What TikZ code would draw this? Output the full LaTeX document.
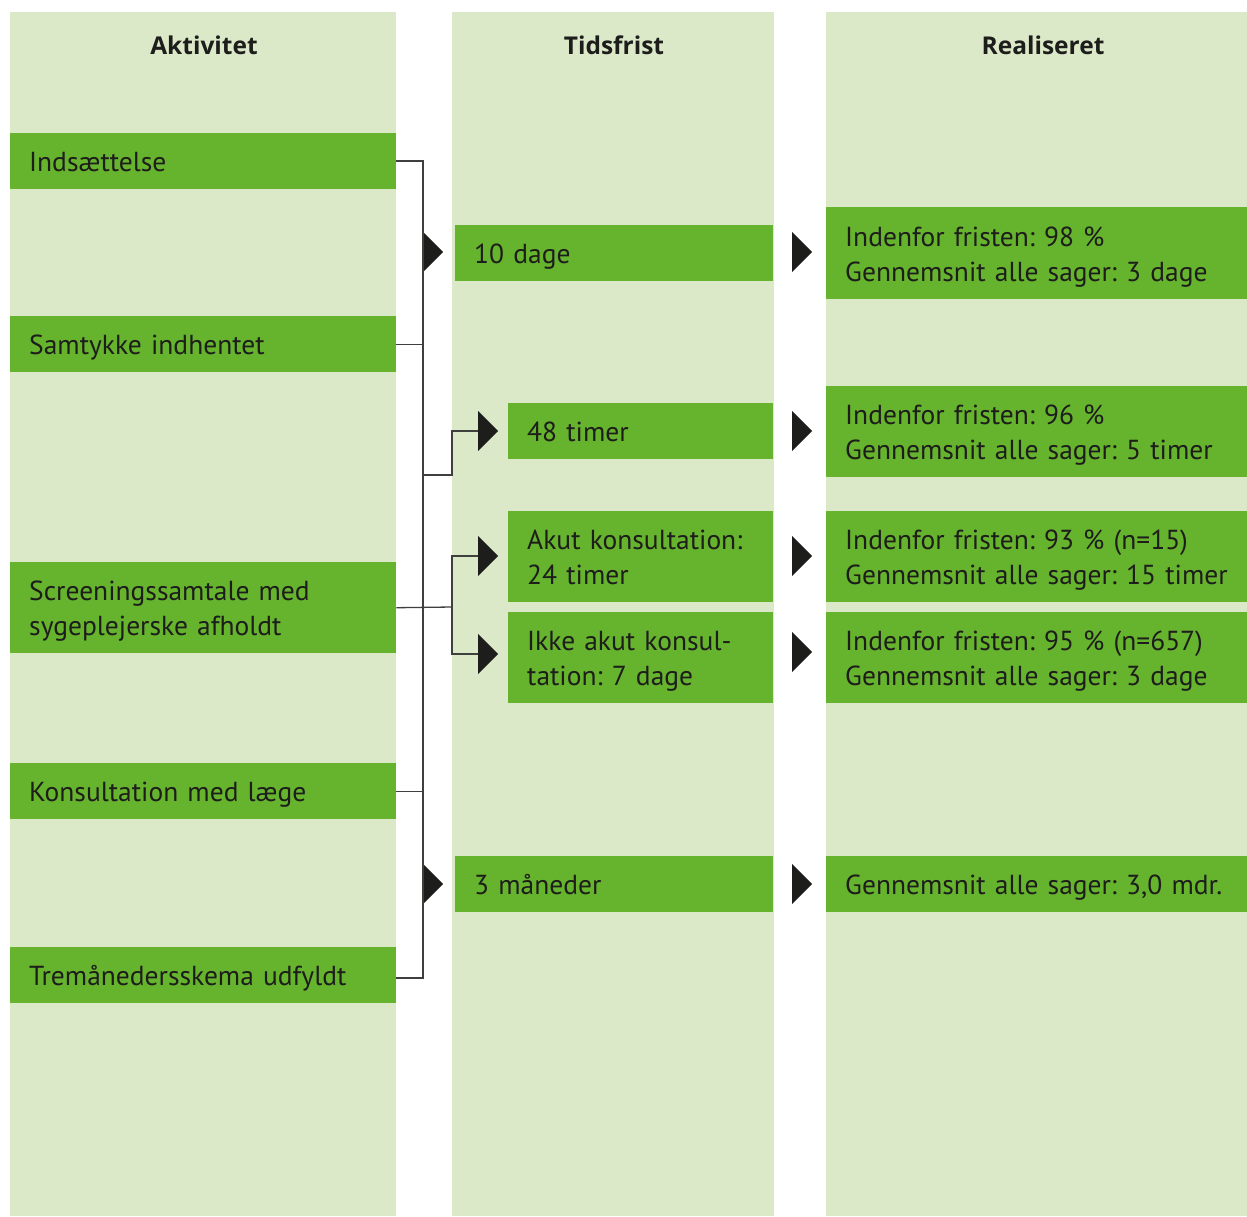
\documentclass[tikz,border=0pt]{standalone}
\usepackage{fontspec}
\setmainfont{PT Sans}
\newfontfamily\headfont{Open Sans}
\usetikzlibrary{shapes.geometric}
\definecolor{lightg}{HTML}{DCE9C8}
\definecolor{darkg}{HTML}{66B32E}
\definecolor{txt}{HTML}{1D1D1B}
\newcommand\bxt[1]{\raisebox{-3.5pt}[\height][\depth]{\begin{tabular}{@{}l@{}}#1\end{tabular}}}
\tikzset{
  x=1pt,y=-1pt,
  col/.style={fill=lightg, draw=none},
  gbox/.style={fill=darkg, draw=none, anchor=north west, inner xsep=19pt, inner ysep=0pt,
    align=left, text=txt, font=\fontsize{27.5}{35}\selectfont},
  head/.style={text=txt, font=\headfont\fontsize{24.5}{28}\selectfont\bfseries},
  tri/.style={isosceles triangle, isosceles triangle stretches, fill=txt, draw=none,
    inner sep=0pt, minimum height=20pt, minimum width=40pt, anchor=west},
  conn/.style={draw=txt!85, line width=1.3pt}
}
\begin{document}
\frenchspacing
\begin{tikzpicture}
\useasboundingbox (0,0) rectangle (1247,1216);
% columns
\fill[col] (10,12) rectangle (396,1216);
\fill[col] (452,12) rectangle (774,1216);
\fill[col] (826,12) rectangle (1247,1216);
% headers
\node[head] (h1) at (204,45) {Aktivitet};
\node[head] (h2) at (614,45) {Tidsfrist};
\node[head] (h3) at (1043,45) {Realiseret};
% activity boxes
\node[gbox, minimum width=386pt, minimum height=56pt, text width=348pt] (a1) at (10,133) {\bxt{Indsættelse}};
\node[gbox, minimum width=386pt, minimum height=56pt, text width=348pt] (a2) at (10,316) {\bxt{Samtykke indhentet}};
\node[gbox, minimum width=386pt, minimum height=91pt, text width=348pt] (a3) at (10,562) {\bxt{Screeningssamtale med\\sygeplejerske afholdt}};
\node[gbox, minimum width=386pt, minimum height=56pt, text width=348pt] (a4) at (10,763) {\bxt{Konsultation med læge}};
\node[gbox, minimum width=386pt, minimum height=56pt, text width=348pt] (a5) at (10,947) {\bxt{Tremånedersskema udfyldt}};
% deadline boxes
\node[gbox, minimum width=318pt, minimum height=56pt, text width=280pt] (t1) at (455,225) {\bxt{10 dage}};
\node[gbox, minimum width=265pt, minimum height=56pt, text width=227pt] (t2) at (508,403) {\bxt{48 timer}};
\node[gbox, minimum width=265pt, minimum height=91pt, text width=227pt] (t3) at (508,511) {\bxt{Akut konsultation:\\24 timer}};
\node[gbox, minimum width=265pt, minimum height=91pt, text width=227pt] (t4) at (508,612) {\bxt{Ikke akut konsul-\\tation: 7 dage}};
\node[gbox, minimum width=318pt, minimum height=56pt, text width=280pt] (t5) at (455,856) {\bxt{3 måneder}};
% result boxes
\node[gbox, minimum width=421pt, minimum height=92pt, text width=383pt] (r1) at (826,207) {\bxt{Indenfor fristen: 98 \%\\Gennemsnit alle sager: 3 dage}};
\node[gbox, minimum width=421pt, minimum height=91pt, text width=383pt] (r2) at (826,386) {\bxt{Indenfor fristen: 96 \%\\Gennemsnit alle sager: 5 timer}};
\node[gbox, minimum width=421pt, minimum height=91pt, text width=383pt] (r3) at (826,511) {\bxt{Indenfor fristen: 93 \% (n=15)\\Gennemsnit alle sager: 15 timer}};
\node[gbox, minimum width=421pt, minimum height=91pt, text width=383pt] (r4) at (826,612) {\bxt{Indenfor fristen: 95 \% (n=657)\\Gennemsnit alle sager: 3 dage}};
\node[gbox, minimum width=421pt, minimum height=56pt, text width=383pt] (r5) at (826,856) {\bxt{Gennemsnit alle sager: 3,0 mdr.}};
% arrow heads (left side)
\node[tri] (p1) at (423,252) {};
\node[tri] (p5) at (423,884) {};
\node[tri] (p2) at (478,431) {};
\node[tri] (p3) at (478,556) {};
\node[tri] (p4) at (478,654) {};
% arrow heads (right side)
\node[tri] (q1) at (792,252) {};
\node[tri] (q2) at (792,431) {};
\node[tri] (q3) at (792,556) {};
\node[tri] (q4) at (792,652) {};
\node[tri] (q5) at (792,884) {};
% connector junctions
\coordinate (top) at (423,161);
\coordinate (bot) at (423,978);
\coordinate (j2) at (423,475);
\coordinate (j3) at (423,607);
\coordinate (k2) at (452,475);
\coordinate (k3) at (452,607);
% connectors
\draw[conn] (a1.east |- top) -- (top) -- (bot) -- (a5.east |- bot);
\draw[conn] (a2.east) -- (a2.east -| top);
\draw[conn] (a3.east) -- (k3);
\draw[conn] (a4.east) -- (a4.east -| top);
\draw[conn] (j2) -- (k2) |- (p2.west);
\draw[conn] (k3) |- (p3.west);
\draw[conn] (k3) |- (p4.west);
\end{tikzpicture}
\end{document}
